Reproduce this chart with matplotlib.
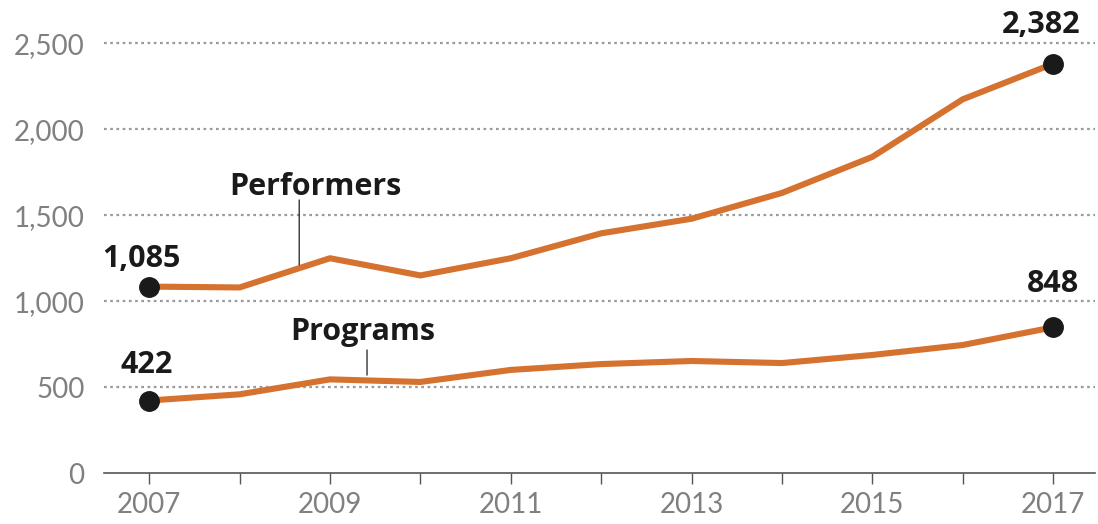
import matplotlib.pyplot as plt
import matplotlib.ticker as mticker

# data
years = [2007, 2008, 2009, 2010, 2011, 2012, 2013, 2014, 2015, 2016, 2017]
performers = [1085, 1080, 1250, 1150, 1250, 1395, 1480, 1630, 1840, 2175, 2382]
programs = [422, 458, 545, 530, 600, 634, 652, 640, 687, 745, 848]
y_ticks = [0, 500, 1000, 1500, 2000, 2500]
x_labels = [2007, 2009, 2011, 2013, 2015, 2017]

orange = '#d6722f'
plt.rcParams['font.family'] = ['Lato', 'DejaVu Sans']

fig = plt.figure(figsize=(10.98, 5.24), dpi=100)
ax = fig.add_axes([0.0947, 0.0973, 0.9023, 0.9027])

ax.plot(years, performers, color=orange, lw=4.4, solid_capstyle='butt', zorder=3)
ax.plot(years, programs, color=orange, lw=4.4, solid_capstyle='butt', zorder=3)

# end points
for s in (performers, programs):
    ax.plot([years[0], years[-1]], [s[0], s[-1]], 'o', color='#1a1a1a', ms=14, zorder=4)

bold = dict(fontsize=22, fontweight='bold', color='#1a1a1a', ha='center', va='baseline',
            family=['Open Sans', 'DejaVu Sans'])
ax.text(2006.91, 1199, f'{performers[0]:,}', **bold)
ax.text(2006.97, 582, f'{programs[0]:,}', **bold)
ax.text(2016.87, 2561, f'{performers[-1]:,}', **bold)
ax.text(2017.0, 1054, f'{programs[-1]:,}', **bold)

# series labels with leader lines
ax.annotate('', xy=(2008.66, 1211), xytext=(2008.66, 1589),
            arrowprops=dict(arrowstyle='-', color='#333333', lw=1, shrinkA=0, shrinkB=0))
ax.text(2008.84, 1618, 'Performers', **bold)
ax.annotate('', xy=(2009.41, 570), xytext=(2009.41, 716),
            arrowprops=dict(arrowstyle='-', color='#333333', lw=1, shrinkA=0, shrinkB=0))
ax.text(2009.36, 774, 'Programs', **bold)

ax.set_xlim(2006.50, 2017.46)
ax.set_ylim(0, 2753)

ax.set_yticks(y_ticks)
ax.yaxis.set_major_formatter(mticker.FuncFormatter(lambda v, p: f'{int(v):,}'))
ax.set_xticks(years)
ax.set_xticklabels([str(y) if y in x_labels else '' for y in years])

for t in y_ticks[1:]:
    ax.axhline(t, color='#9a9a9a', lw=1.6, ls=(0, (1.2, 1.6)), zorder=1)

ax.tick_params(axis='y', length=0, pad=14, labelsize=20, labelcolor='#808080')
ax.tick_params(axis='x', length=8, width=1, color='#555555', pad=6,
               labelsize=20, labelcolor='#808080')

for side in ('top', 'right', 'left'):
    ax.spines[side].set_visible(False)
ax.spines['bottom'].set_color('#555555')
ax.spines['bottom'].set_linewidth(1.2)

fig.savefig('out.png', dpi=100)
